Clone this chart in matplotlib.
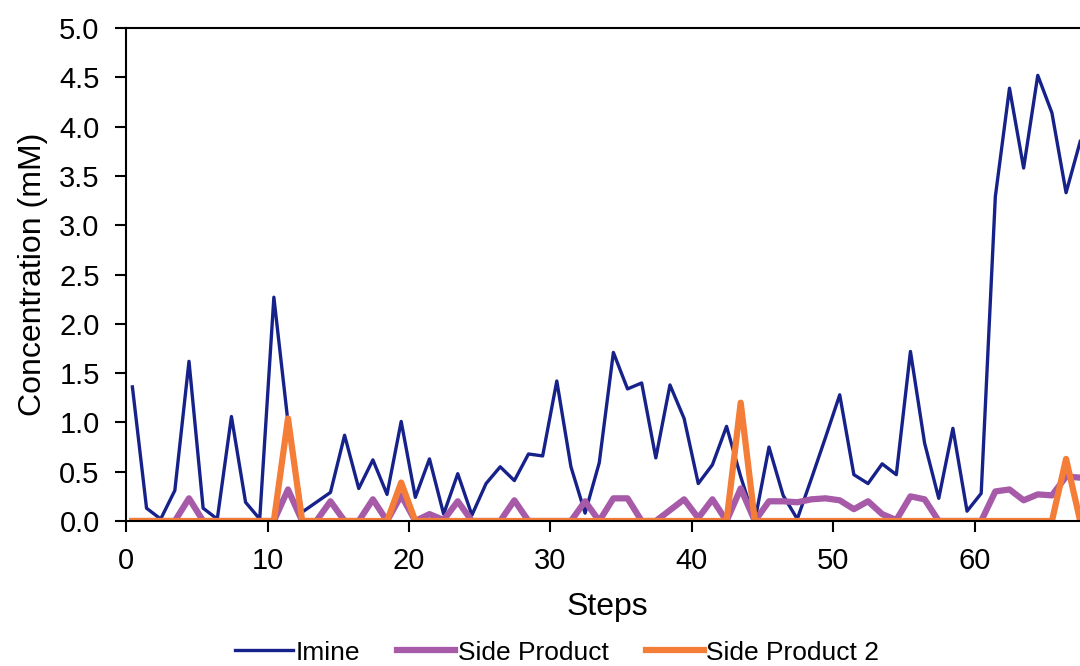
import numpy as np
import matplotlib
matplotlib.use('Agg')
import matplotlib.pyplot as plt

# concentrations (mM), one value per step
imine = [1.36, 0.13, 0.02, 0.31, 1.62, 0.13, 0.02, 1.06, 0.19, 0.02,
         2.27, 1.00, 0.09, 0.19, 0.29, 0.87, 0.33, 0.62, 0.27, 1.01,
         0.24, 0.63, 0.07, 0.48, 0.06, 0.38, 0.55, 0.41, 0.68, 0.66,
         1.42, 0.55, 0.08, 0.59, 1.71, 1.34, 1.40, 0.64, 1.38, 1.04,
         0.38, 0.57, 0.96, 0.45, 0.00, 0.75, 0.26, 0.02, 0.43, 0.85,
         1.28, 0.47, 0.38, 0.58, 0.47, 1.72, 0.79, 0.23, 0.94, 0.10,
         0.28, 3.29, 4.39, 3.58, 4.52, 4.14, 3.33, 3.85]
side_product = [0, 0, 0, 0, 0.23, 0, 0, 0, 0, 0,
                0, 0.32, 0, 0, 0.20, 0, 0, 0.22, 0, 0.26,
                0, 0.07, 0.01, 0.20, 0, 0, 0, 0.21, 0, 0,
                0, 0, 0.20, 0, 0.23, 0.23, 0, 0, 0.11, 0.22,
                0.03, 0.22, 0, 0.33, 0, 0.20, 0.20, 0.19, 0.22, 0.23,
                0.21, 0.12, 0.20, 0.07, 0.01, 0.25, 0.22, 0, 0, 0,
                0, 0.30, 0.32, 0.21, 0.27, 0.26, 0.45, 0.44]
side_product_2 = [0, 0, 0, 0, 0, 0, 0, 0, 0, 0,
                  0, 1.04, 0, 0, 0, 0, 0, 0, 0, 0.39,
                  0, 0, 0, 0, 0, 0, 0, 0, 0, 0,
                  0, 0, 0, 0, 0, 0, 0, 0, 0, 0,
                  0, 0, 0, 1.20, 0, 0, 0, 0, 0, 0,
                  0, 0, 0, 0, 0, 0, 0, 0, 0, 0,
                  0, 0, 0, 0, 0, 0, 0.63, 0]

# points sit a little right of the integer ticks in the original
steps = np.arange(len(imine)) + 0.45

plt.rcParams['font.family'] = ['Liberation Sans', 'DejaVu Sans']

fig = plt.figure(figsize=(10.8, 6.66), dpi=100)
# axes runs past the right edge, the reference is cropped there
ax = fig.add_axes([0.1167, 0.2177, 0.8907, 0.7402])

ax.plot(steps, imine, color='#16228a', lw=2.4, label='Imine')
ax.plot(steps, side_product, color='#a65aa8', lw=4.5, label='Side Product')
ax.plot(steps, side_product_2, color='#f47d38', lw=4.5, label='Side Product 2')

ax.set_xlim(0, 68)
ax.set_ylim(0, 5)
ax.set_xticks(np.arange(0, 61, 10))
ax.set_yticks(np.arange(0, 5.01, 0.5))
ax.yaxis.set_major_formatter(matplotlib.ticker.FormatStrFormatter('%.1f'))

for s in ax.spines.values():
    s.set_linewidth(1.5)
ax.tick_params(axis='both', direction='out', length=8, width=1.5, labelsize=21)
ax.tick_params(axis='x', pad=11)
ax.tick_params(axis='y', pad=11)

ax.set_xlabel('Steps', fontsize=23, labelpad=12)
ax.set_ylabel('Concentration (mM)', fontsize=23, labelpad=8)

fig.legend(loc='center', bbox_to_anchor=(0.516, 0.02), ncol=3, frameon=False,
           fontsize=19, handlelength=2.2, handletextpad=0.1, columnspacing=1.4)

fig.savefig('out.png', dpi=100)
